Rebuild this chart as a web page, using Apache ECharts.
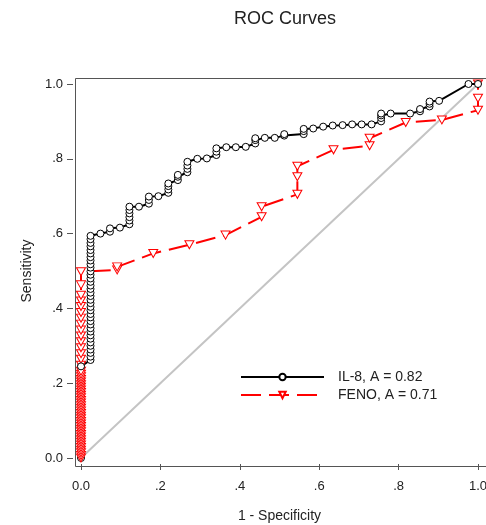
<!DOCTYPE html>
<html>
<head>
<meta charset="utf-8">
<script src="https://cdn.jsdelivr.net/npm/echarts@6/dist/echarts.min.js"></script>
<style>
  html, body { margin: 0; padding: 0; background: #fff; }
  #chart { width: 486px; height: 525px; }
</style>
</head>
<body>
<div id="chart"></div>
<script>
// tick labels (0.0, .2, ... 1.0)
var tickLabels = ["0.0", ".2", ".4", ".6", ".8", "1.0"];

// IL-8, points hidden under FENO at 1 - specificity = 0
var il8StartX = [0, 0, 0, 0, 0, 0, 0, 0, 0];
var il8StartY = [0, 0.03, 0.06, 0.09, 0.12, 0.15, 0.18, 0.21, 0.245];

// IL-8 main curve (1 - specificity, sensitivity)
var il8X = [
  0, 0.024, 0.024, 0.024, 0.024, 0.024, 0.024, 0.024, 0.024, 0.024, 0.024,
  0.024, 0.024, 0.024, 0.024, 0.024, 0.024, 0.024, 0.024, 0.024, 0.024,
  0.024, 0.024, 0.024, 0.024, 0.024, 0.024, 0.024, 0.024, 0.024, 0.024,
  0.024, 0.024, 0.024, 0.024, 0.024, 0.024,
  0.049, 0.073, 0.073, 0.098,
  0.122, 0.122, 0.122, 0.122, 0.122, 0.122, 0.146,
  0.171, 0.171, 0.171, 0.195,
  0.22, 0.22, 0.22, 0.22, 0.244, 0.244, 0.244,
  0.268, 0.268, 0.268, 0.268, 0.293, 0.317,
  0.341, 0.341, 0.341, 0.366, 0.39, 0.415,
  0.439, 0.439, 0.439, 0.463, 0.488, 0.512, 0.512,
  0.561, 0.561, 0.561, 0.585, 0.61, 0.634, 0.659, 0.683, 0.707, 0.732,
  0.756, 0.756, 0.756, 0.756, 0.78, 0.829,
  0.854, 0.854, 0.878, 0.878, 0.878, 0.902, 0.976, 1.0
];
var il8Y = [
  0.245, 0.262, 0.271, 0.281, 0.290, 0.300, 0.309, 0.319, 0.328, 0.338, 0.347,
  0.357, 0.366, 0.376, 0.385, 0.395, 0.404, 0.414, 0.423, 0.433, 0.442,
  0.452, 0.461, 0.471, 0.480, 0.490, 0.499, 0.509, 0.518, 0.528, 0.537,
  0.547, 0.556, 0.566, 0.575, 0.585, 0.594,
  0.600, 0.605, 0.614, 0.616,
  0.625, 0.635, 0.644, 0.654, 0.663, 0.672, 0.672,
  0.680, 0.690, 0.699, 0.700,
  0.709, 0.718, 0.727, 0.734, 0.743, 0.752, 0.757,
  0.764, 0.773, 0.782, 0.792, 0.800, 0.801,
  0.810, 0.819, 0.828, 0.831, 0.831, 0.832,
  0.841, 0.850, 0.855, 0.856, 0.856, 0.862, 0.866,
  0.866, 0.874, 0.880, 0.881, 0.886, 0.889, 0.890, 0.892, 0.892, 0.892,
  0.900, 0.909, 0.916, 0.921, 0.921, 0.921,
  0.927, 0.933, 0.940, 0.947, 0.953, 0.955, 1.0, 1.0
];

// FENO curve
var fenoX = [
  0, 0, 0, 0, 0, 0, 0, 0, 0, 0, 0, 0, 0, 0, 0, 0, 0, 0, 0, 0, 0, 0, 0, 0,
  0, 0, 0, 0, 0, 0, 0, 0, 0, 0, 0, 0, 0, 0, 0, 0, 0, 0, 0, 0, 0, 0, 0, 0, 0,
  0.091, 0.091, 0.182, 0.273, 0.364, 0.455, 0.455,
  0.545, 0.545, 0.545, 0.636, 0.727, 0.727, 0.818, 0.909, 1.0, 1.0, 1.0
];
var fenoY = [
  0, 0.007, 0.014, 0.021, 0.028, 0.035, 0.042, 0.049, 0.056, 0.063, 0.070,
  0.077, 0.084, 0.091, 0.098, 0.105, 0.112, 0.119, 0.126, 0.133, 0.140,
  0.147, 0.154, 0.161, 0.168, 0.175, 0.182, 0.189, 0.196, 0.203, 0.210,
  0.217, 0.224, 0.232, 0.248, 0.264, 0.279, 0.295, 0.311, 0.326, 0.342,
  0.358, 0.374, 0.389, 0.405, 0.420, 0.435, 0.463, 0.498,
  0.503, 0.511, 0.547, 0.570, 0.596, 0.645, 0.672,
  0.705, 0.752, 0.780, 0.824, 0.835, 0.855, 0.897, 0.904, 0.930, 0.962, 1.0
];

var diagX = [0, 1];
var diagY = [0, 1];

function pairs (xs, ys) {
  return xs.map(function (x, i) { return [x, ys[i]]; });
}

var font = "Liberation Sans";
var il8Name = "IL-8, A = 0.82";
var fenoName = "FENO, A = 0.71";

function tickText (v) {
  return tickLabels[Math.round(v * 5)];
}

var myChart = echarts.init(document.getElementById("chart"));
myChart.setOption({
  animation: false,
  title: {
    text: "ROC Curves",
    left: 229,
    top: 5,
    textStyle: { fontFamily: font, fontSize: 18, fontWeight: "normal", color: "#222" },
  },
  // plot frame, drawn a little outside the 0..1 data area
  graphic: [
    {
      type: "rect",
      left: 73,
      top: 76,
      shape: { width: 412, height: 388 },
      style: { fill: null, stroke: "#555", lineWidth: 1 },
      silent: true,
      z: 1,
    },
  ],
  grid: {
    left: 81,
    right: 8,
    top: 84,
    bottom: 67,
    outerBoundsMode: "none",
    containLabel: false,
  },
  legend: {
    data: [il8Name, fenoName],
    orient: "vertical",
    left: 235,
    top: 365,
    itemWidth: 83,
    itemHeight: 8,
    itemGap: 4,
    textStyle: { fontFamily: font, fontSize: 14, color: "#222", padding: [0, 0, 0, 9] },
  },
  xAxis: {
    type: "value",
    min: 0,
    max: 1,
    interval: 0.2,
    offset: 6,
    name: "1 - Specificity",
    nameLocation: "middle",
    nameGap: 45,
    nameTextStyle: { fontFamily: font, fontSize: 14, color: "#222" },
    axisLine: { show: false, onZero: false },
    splitLine: { show: false },
    axisTick: { show: true, inside: false, length: 6, lineStyle: { color: "#555" } },
    axisLabel: {
      margin: 16,
      fontFamily: font,
      fontSize: 13,
      color: "#222",
      showMinLabel: true,
      showMaxLabel: true,
      formatter: tickText,
    },
  },
  yAxis: {
    type: "value",
    min: 0,
    max: 1,
    interval: 0.2,
    offset: 8,
    name: "Sensitivity",
    nameLocation: "middle",
    nameGap: 35,
    nameTextStyle: { fontFamily: font, fontSize: 14, color: "#222" },
    axisLine: { show: false, onZero: false },
    splitLine: { show: false },
    axisTick: { show: true, inside: false, length: 6, lineStyle: { color: "#555" } },
    axisLabel: {
      margin: 10,
      fontFamily: font,
      fontSize: 13,
      color: "#222",
      showMinLabel: true,
      showMaxLabel: true,
      formatter: tickText,
    },
  },
  series: [
    {
      name: "diagonal",
      type: "line",
      data: pairs(diagX, diagY),
      showSymbol: false,
      clip: false,
      lineStyle: { color: "#c4c4c4", width: 2 },
      silent: true,
    },
    {
      name: "il8start",
      type: "line",
      data: pairs(il8StartX, il8StartY),
      symbol: "circle",
      symbolSize: 7,
      clip: false,
      itemStyle: { color: "#fff", borderColor: "#000", borderWidth: 1 },
      lineStyle: { color: "#000", width: 2 },
    },
    {
      name: fenoName,
      type: "line",
      data: pairs(fenoX, fenoY),
      symbol: "triangle",
      symbolRotate: 180,
      symbolSize: [9, 8],
      clip: false,
      itemStyle: { color: "#fff", borderColor: "#ff0000", borderWidth: 1 },
      lineStyle: { color: "#ff0000", width: 2, type: [20, 8] },
    },
    {
      name: il8Name,
      type: "line",
      data: pairs(il8X, il8Y),
      symbol: "circle",
      symbolSize: 7,
      clip: false,
      itemStyle: { color: "#fff", borderColor: "#000", borderWidth: 1 },
      lineStyle: { color: "#000", width: 2 },
    },
  ],
});
</script>
</body>
</html>
